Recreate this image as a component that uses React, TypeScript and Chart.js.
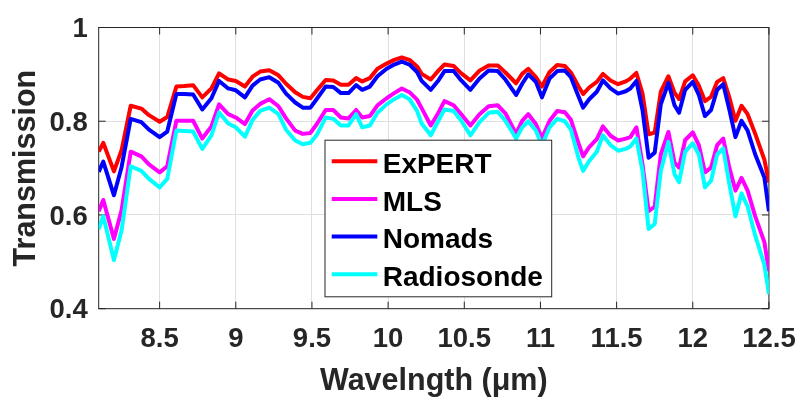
import React, { useEffect, useRef } from "react";
import { Chart, registerables } from "chart.js";

Chart.register(...registerables);

const wavelength = [
  8.10, 8.13, 8.20, 8.25, 8.31, 8.38, 8.43, 8.50, 8.55, 8.61,
  8.66, 8.72, 8.78, 8.84, 8.89, 8.95, 9.00, 9.06, 9.11, 9.16,
  9.22, 9.28, 9.33, 9.39, 9.44, 9.49, 9.53, 9.59, 9.64, 9.69,
  9.74, 9.79, 9.83, 9.88, 9.93, 9.99, 10.04, 10.09, 10.14, 10.19,
  10.22, 10.28, 10.33, 10.37, 10.43, 10.48, 10.54, 10.60, 10.66, 10.72,
  10.77, 10.84, 10.88, 10.92, 10.97, 11.01, 11.06, 11.11, 11.16, 11.20,
  11.25, 11.28, 11.32, 11.37, 11.41, 11.46, 11.51, 11.56, 11.59, 11.63,
  11.67, 11.71, 11.75, 11.79, 11.84, 11.88, 11.91, 11.95, 12.00, 12.04,
  12.08, 12.12, 12.16, 12.20, 12.24, 12.28, 12.32, 12.36, 12.41, 12.47,
  12.50,
];

const expert = [
  0.735, 0.754, 0.693, 0.738, 0.833, 0.827, 0.813, 0.799, 0.809, 0.874,
  0.875, 0.877, 0.851, 0.870, 0.902, 0.889, 0.886, 0.874, 0.895, 0.906,
  0.909, 0.898, 0.880, 0.862, 0.852, 0.849, 0.865, 0.888, 0.887, 0.878,
  0.878, 0.892, 0.885, 0.892, 0.912, 0.923, 0.931, 0.936, 0.931, 0.917,
  0.901, 0.889, 0.908, 0.921, 0.918, 0.902, 0.887, 0.908, 0.919, 0.919,
  0.904, 0.881, 0.901, 0.912, 0.894, 0.874, 0.905, 0.920, 0.918, 0.904,
  0.874, 0.858, 0.872, 0.884, 0.901, 0.887, 0.879, 0.885, 0.891, 0.903,
  0.859, 0.772, 0.776, 0.863, 0.896, 0.861, 0.847, 0.885, 0.898, 0.876,
  0.843, 0.852, 0.884, 0.892, 0.851, 0.801, 0.833, 0.815, 0.773, 0.718,
  0.669,
];

const mls = [
  0.608, 0.632, 0.549, 0.610, 0.735, 0.725, 0.708, 0.691, 0.704, 0.801,
  0.801, 0.801, 0.763, 0.789, 0.836, 0.815, 0.808, 0.794, 0.823, 0.837,
  0.847, 0.832, 0.806, 0.780, 0.773, 0.775, 0.793, 0.824, 0.824, 0.808,
  0.806, 0.824, 0.808, 0.811, 0.834, 0.849, 0.860, 0.870, 0.862, 0.846,
  0.828, 0.791, 0.818, 0.843, 0.834, 0.815, 0.791, 0.815, 0.832, 0.834,
  0.817, 0.773, 0.801, 0.815, 0.794, 0.764, 0.801, 0.822, 0.819, 0.803,
  0.753, 0.725, 0.745, 0.762, 0.789, 0.769, 0.759, 0.763, 0.766, 0.787,
  0.708, 0.608, 0.618, 0.729, 0.777, 0.712, 0.701, 0.760, 0.776, 0.749,
  0.691, 0.701, 0.749, 0.763, 0.701, 0.652, 0.679, 0.652, 0.597, 0.542,
  0.480,
];

const nomads = [
  0.692, 0.714, 0.642, 0.702, 0.805, 0.798, 0.782, 0.766, 0.778, 0.858,
  0.858, 0.857, 0.825, 0.849, 0.886, 0.870, 0.866, 0.851, 0.876, 0.889,
  0.894, 0.882, 0.859, 0.840, 0.829, 0.829, 0.847, 0.874, 0.873, 0.860,
  0.860, 0.877, 0.867, 0.874, 0.896, 0.912, 0.921, 0.927, 0.921, 0.905,
  0.886, 0.867, 0.887, 0.907, 0.907, 0.887, 0.867, 0.891, 0.908, 0.907,
  0.889, 0.856, 0.880, 0.900, 0.884, 0.851, 0.891, 0.907, 0.908, 0.894,
  0.853, 0.829, 0.847, 0.863, 0.887, 0.870, 0.859, 0.864, 0.870, 0.886,
  0.824, 0.722, 0.733, 0.836, 0.882, 0.834, 0.818, 0.867, 0.884, 0.856,
  0.811, 0.824, 0.867, 0.879, 0.825, 0.766, 0.801, 0.780, 0.729, 0.680,
  0.608,
];

const radiosonde = [
  0.570, 0.597, 0.504, 0.567, 0.704, 0.694, 0.677, 0.659, 0.677, 0.780,
  0.779, 0.778, 0.741, 0.770, 0.819, 0.795, 0.787, 0.767, 0.803, 0.822,
  0.829, 0.815, 0.782, 0.759, 0.751, 0.754, 0.770, 0.808, 0.805, 0.791,
  0.791, 0.815, 0.787, 0.791, 0.818, 0.836, 0.847, 0.856, 0.847, 0.822,
  0.795, 0.770, 0.801, 0.825, 0.822, 0.801, 0.770, 0.798, 0.818, 0.820,
  0.801, 0.763, 0.787, 0.800, 0.780, 0.749, 0.787, 0.805, 0.800, 0.782,
  0.722, 0.694, 0.715, 0.735, 0.770, 0.749, 0.737, 0.741, 0.746, 0.763,
  0.694, 0.570, 0.581, 0.694, 0.756, 0.687, 0.670, 0.735, 0.753, 0.729,
  0.659, 0.673, 0.729, 0.742, 0.666, 0.597, 0.646, 0.618, 0.556, 0.494,
  0.431,
];

const seriesNames = ["ExPERT", "MLS", "Nomads", "Radiosonde"];
const seriesColors = ["#ff0000", "#ff00ff", "#0000ff", "#00ffff"];
const xTicks = [8.5, 9, 9.5, 10, 10.5, 11, 11.5, 12, 12.5];
const yTicks = [0.4, 0.6, 0.8, 1];
const xTitle = "Wavelngth (μm)";
const yTitle = "Transmission";

const FONT = '"Liberation Sans", Arial, Helvetica, sans-serif';

export default function App() {
  const ref = useRef<HTMLCanvasElement>(null);

  useEffect(() => {
    if (!ref.current) return;
    const values = [expert, mls, nomads, radiosonde];
    const datasets = values.map((v, i) => ({
      label: seriesNames[i],
      data: v.map((y, j) => ({ x: wavelength[j], y })),
      borderColor: seriesColors[i],
      backgroundColor: seriesColors[i],
      borderWidth: 4,
      pointRadius: 0,
      pointHoverRadius: 0,
      tension: 0,
      fill: false,
      order: values.length - i,
    }));

    const framePlugin = {
      id: "frame",
      beforeDatasetsDraw(chart: any) {
        const { ctx, chartArea: a, scales } = chart;
        ctx.save();
        ctx.strokeStyle = "#262626";
        ctx.lineWidth = 1;
        ctx.strokeRect(a.left, a.top, a.right - a.left, a.bottom - a.top);
        const tl = 7;
        ctx.beginPath();
        xTicks.forEach((v) => {
          const p = scales.x.getPixelForValue(v);
          ctx.moveTo(p, a.bottom);
          ctx.lineTo(p, a.bottom - tl);
          ctx.moveTo(p, a.top);
          ctx.lineTo(p, a.top + tl);
        });
        yTicks.forEach((v) => {
          const p = scales.y.getPixelForValue(v);
          ctx.moveTo(a.left, p);
          ctx.lineTo(a.left + tl, p);
          ctx.moveTo(a.right, p);
          ctx.lineTo(a.right - tl, p);
        });
        ctx.stroke();
        ctx.restore();
      },
    };

    const legendPlugin = {
      id: "boxLegend",
      afterDatasetsDraw(chart: any) {
        const { ctx, chartArea: a } = chart;
        const bx = a.left + 226.3;
        const by = a.top + 112.7;
        const bw = 226.7;
        const bh = 156.6;
        ctx.save();
        ctx.fillStyle = "#ffffff";
        ctx.fillRect(bx, by, bw, bh);
        ctx.strokeStyle = "#262626";
        ctx.lineWidth = 1;
        ctx.strokeRect(bx, by, bw, bh);
        ctx.font = `bold 28px ${FONT}`;
        ctx.textAlign = "left";
        ctx.textBaseline = "alphabetic";
        seriesNames.forEach((name, i) => {
          const ly = by + 21 + i * 37.7;
          ctx.strokeStyle = seriesColors[i];
          ctx.lineWidth = 4;
          ctx.beginPath();
          ctx.moveTo(bx + 6.7, ly);
          ctx.lineTo(bx + 52.3, ly);
          ctx.stroke();
          ctx.fillStyle = "#000000";
          ctx.fillText(name, bx + 57.7, ly + 11.6);
        });
        ctx.restore();
      },
    };

    const chart = new Chart(ref.current, {
      type: "line",
      data: { datasets },
      options: {
        animation: false,
        responsive: false,
        maintainAspectRatio: false,
        devicePixelRatio: 1,
        layout: { padding: { left: 0, top: 19, right: 32, bottom: 0 } },
        plugins: {
          legend: { display: false },
          tooltip: { enabled: false },
        },
        elements: { line: { borderJoinStyle: "round" } },
        scales: {
          x: {
            type: "linear",
            min: 8.1,
            max: 12.5,
            afterBuildTicks: (s: any) => {
              s.ticks = xTicks.map((v) => ({ value: v }));
            },
            afterFit: (s: any) => {
              s.height = 93.3;
            },
            grid: { color: "#dfdfdf", lineWidth: 1, drawTicks: false },
            border: { display: false },
            ticks: {
              autoSkip: false,
              maxRotation: 0,
              padding: 14.3,
              color: "#262626",
              font: { family: FONT, size: 27.5, weight: "bold" },
              callback: (v: any) => String(v),
            },
            title: {
              display: true,
              text: xTitle,
              color: "#262626",
              font: { family: FONT, size: 30.5, weight: "bold" },
              padding: { top: 0, bottom: 2.6 },
            },
          },
          y: {
            type: "linear",
            min: 0.4,
            max: 1,
            afterBuildTicks: (s: any) => {
              s.ticks = yTicks.map((v) => ({ value: v }));
            },
            afterFit: (s: any) => {
              s.width = 98.7;
            },
            grid: { color: "#dfdfdf", lineWidth: 1, drawTicks: false },
            border: { display: false },
            ticks: {
              padding: 11,
              labelOffset: 2,
              color: "#262626",
              font: { family: FONT, size: 27.5, weight: "bold" },
              callback: (v: any) => String(v),
            },
            title: {
              display: true,
              text: yTitle,
              color: "#262626",
              font: { family: FONT, size: 30.5, weight: "bold" },
              padding: { top: 8, bottom: 0 },
            },
          },
        },
      },
      plugins: [framePlugin, legendPlugin],
    } as any);

    return () => chart.destroy();
  }, []);

  return (
    <div style={{ position: "fixed", left: 0, top: 0, width: 810, height: 402, background: "#ffffff" }}>
      <canvas ref={ref} width={810} height={402} style={{ display: "block", width: 810, height: 402 }} />
    </div>
  );
}
